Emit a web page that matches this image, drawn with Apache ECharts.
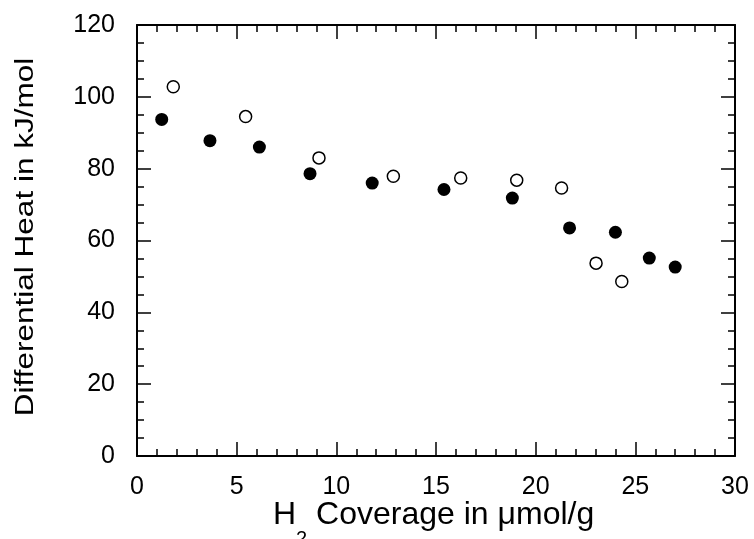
<!DOCTYPE html>
<html><head><meta charset="utf-8">
<script src="https://cdn.jsdelivr.net/npm/echarts@6/dist/echarts.min.js"></script>
<style>html,body{margin:0;padding:0;background:#fff}#c{width:754px;height:539px}</style>
</head><body><div id="c"></div>
<script>
// Filled circles
var filledX = [1.24, 3.66, 6.14, 8.68, 11.8, 15.4, 18.83, 21.7, 24.0, 25.7, 27.0];
var filledY = [93.7, 87.8, 86.0, 78.6, 76.0, 74.2, 71.8, 63.5, 62.3, 55.1, 52.6];
// Open circles
var openX = [1.82, 5.45, 9.13, 12.86, 16.24, 19.05, 21.3, 23.03, 24.32];
var openY = [102.8, 94.5, 83.0, 77.9, 77.4, 76.8, 74.6, 53.7, 48.6];
var xTicks = [0, 5, 10, 15, 20, 25, 30];
var yTicks = [0, 20, 40, 60, 80, 100, 120];
var xTitleMain = 'H';
var xTitleSub = '2';
var xTitleRest = ' Coverage in \u03bcmol/g';
var yTitle = 'Differential Heat in kJ/mol';

function zip(a, b) { return a.map(function (v, i) { return [v, b[i]]; }); }

var FONT = 'Liberation Sans, Arial, Helvetica, sans-serif';
function axisCommon() {
  return {
    axisLine: { show: true, onZero: false, lineStyle: { color: '#000', width: 2 } },
    axisTick: { show: true, inside: true, length: 14, lineStyle: { color: '#000', width: 1.5 } },
    minorTick: { show: true, splitNumber: 5, length: 7, lineStyle: { color: '#000', width: 1.5 } },
    splitLine: { show: false },
    minorSplitLine: { show: false }
  };
}

var chart = echarts.init(document.getElementById('c'), null, { renderer: 'canvas' });

function xAx(pos, showLabel) {
  var a = axisCommon();
  a.minorTick.splitNumber = 5;
  return Object.assign(a, {
    type: 'value', position: pos, min: xTicks[0], max: xTicks[xTicks.length - 1], interval: 5,
    axisLabel: { show: showLabel, color: '#000', fontSize: 25, fontFamily: FONT, margin: 19 }
  });
}
function yAx(pos, showLabel) {
  var a = axisCommon();
  a.minorTick.splitNumber = 4;
  return Object.assign(a, {
    type: 'value', position: pos, min: yTicks[0], max: yTicks[yTicks.length - 1], interval: 20,
    axisLabel: { show: showLabel, color: '#000', fontSize: 25, fontFamily: FONT, margin: 22 }
  });
}

chart.setOption({
  animation: false,
  backgroundColor: '#fff',
  grid: { left: 137, right: 19, top: 25, bottom: 83 },
  xAxis: [xAx('bottom', true), xAx('top', false)],
  yAxis: [yAx('left', true), yAx('right', false)],
  graphic: [
    {
      type: 'text', x: 273, y: 499,
      style: {
        text: '{a|' + xTitleMain + '}{s|' + xTitleSub + '}{a|' + xTitleRest + '}',
        fill: '#000',
        rich: {
          a: { fontSize: 32, fontFamily: FONT, color: '#000', lineHeight: 32, verticalAlign: 'top' },
          s: { fontSize: 20, fontFamily: FONT, color: '#000', lineHeight: 50, verticalAlign: 'bottom' }
        }
      }
    },
    {
      type: 'text', x: 26, y: 237, rotation: Math.PI / 2, scaleX: 1.26,
      style: {
        text: yTitle, font: '25px ' + FONT, fill: '#000',
        textAlign: 'center', textVerticalAlign: 'middle'
      }
    }
  ],
  series: [
    {
      type: 'scatter', xAxisIndex: 0, yAxisIndex: 0,
      data: zip(filledX, filledY), symbol: 'circle', symbolSize: 13,
      itemStyle: { color: '#000', opacity: 1 }
    },
    {
      type: 'scatter', xAxisIndex: 0, yAxisIndex: 0,
      data: zip(openX, openY), symbol: 'circle', symbolSize: 12,
      itemStyle: { color: '#fff', borderColor: '#000', borderWidth: 1.5, opacity: 1 }
    }
  ]
});
</script></body></html>
